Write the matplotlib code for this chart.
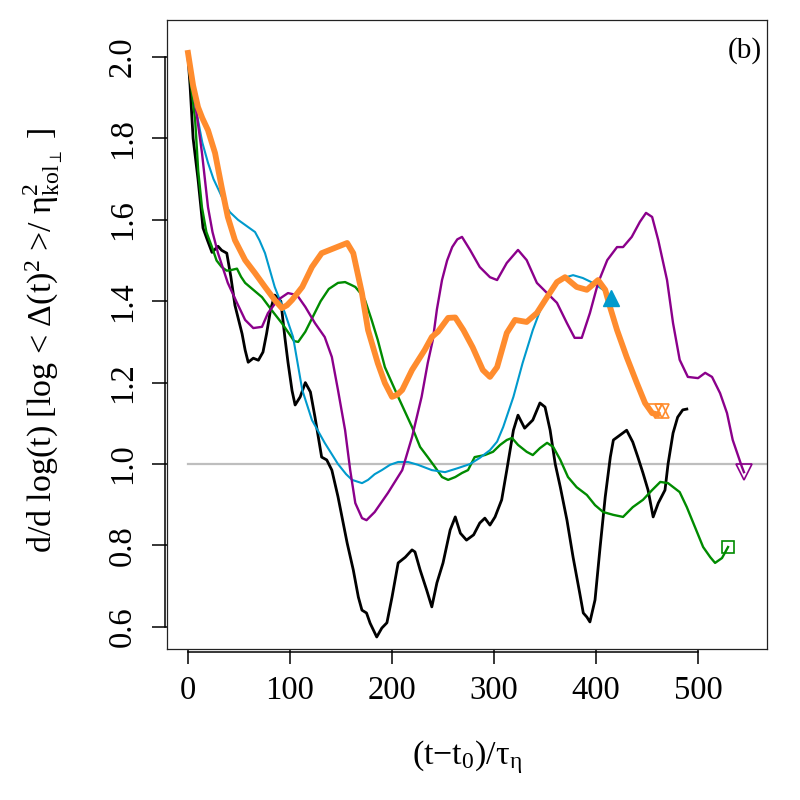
import matplotlib
matplotlib.use("Agg")
import matplotlib.pyplot as plt
import matplotlib.transforms as mtransforms

plt.rcParams["font.family"] = ["Liberation Serif", "DejaVu Serif"]
plt.rcParams["mathtext.fontset"] = "custom"
plt.rcParams["mathtext.rm"] = "Liberation Serif"
plt.rcParams["mathtext.it"] = "Liberation Serif:italic"

# valores
t_negro = [0, 2, 5, 9.8, 14.7, 19, 23.5, 29.4, 33, 38, 42, 46, 50, 53, 56, 59, 64, 69, 73.5, 77,
           81, 85, 91, 95, 98, 102, 105, 110, 115, 120, 124.5, 131, 136, 141, 147, 156, 162, 167,
           170.5, 175, 178.5, 185, 190, 195, 200, 206, 213, 219.6, 222.5, 227.5, 234, 239, 244,
           250, 257, 262, 267, 273, 280, 286, 291, 296, 301, 307.5, 312.5, 319, 323.5, 330, 338,
           345, 350, 355, 360, 365, 371.5, 377.5, 384, 387.5, 391, 394, 399, 404, 409, 414, 417,
           423.5, 430, 436, 441, 446, 451, 456, 461, 467.6, 470.6, 475.5, 480, 485, 489]
y_negro = [2.0, 1.93, 1.80, 1.70, 1.58, 1.55, 1.52, 1.535, 1.525, 1.518, 1.46, 1.39, 1.35, 1.32,
           1.28, 1.25, 1.26, 1.255, 1.275, 1.32, 1.38, 1.415, 1.40, 1.31, 1.25, 1.18, 1.145, 1.165,
           1.20, 1.177, 1.115, 1.017, 1.01, 0.985, 0.92, 0.806, 0.74, 0.673, 0.641, 0.634, 0.609,
           0.575, 0.597, 0.61, 0.673, 0.757, 0.771, 0.789, 0.784, 0.74, 0.69, 0.649, 0.708, 0.757,
           0.838, 0.87, 0.83, 0.813, 0.826, 0.855, 0.867, 0.85, 0.87, 0.912, 0.985, 1.083, 1.12,
           1.088, 1.108, 1.15, 1.14, 1.083, 1.0, 0.943, 0.862, 0.771, 0.683, 0.634, 0.624, 0.612,
           0.666, 0.796, 0.919, 1.017, 1.059, 1.071, 1.083, 1.054, 1.017, 0.978, 0.936, 0.87,
           0.904, 0.936, 1.0, 1.076, 1.115, 1.133, 1.135]

t_verde = [0, 3, 7, 10, 13.7, 18, 23.5, 28, 33, 38, 43, 48, 52, 56, 64, 72.5, 82, 92, 100, 104,
           108, 115, 122, 130, 138, 147, 154, 160, 164, 169, 173.5, 180, 186, 193, 206, 219.6,
           227.5, 235, 242, 249, 255, 262, 268.6, 274.5, 281, 291, 299, 306, 312.5, 317.6, 323.5,
           332, 338, 345, 352, 358, 365, 372.5, 381, 391, 399, 407, 417, 426.5, 436, 446, 455,
           463, 470.6, 482, 489, 497, 505, 512, 516.7, 523.5, 529.4]
y_verde = [2.0, 1.93, 1.845, 1.72, 1.63, 1.57, 1.533, 1.50, 1.484, 1.475, 1.477, 1.48, 1.46, 1.445,
           1.428, 1.41, 1.378, 1.346, 1.317, 1.302, 1.30, 1.325, 1.36, 1.40, 1.43, 1.445, 1.447,
           1.44, 1.435, 1.42, 1.403, 1.354, 1.305, 1.238, 1.165, 1.091, 1.042, 1.017, 0.993, 0.968,
           0.961, 0.968, 0.978, 0.985, 1.017, 1.022, 1.03, 1.047, 1.059, 1.064, 1.047, 1.03, 1.022,
           1.039, 1.052, 1.042, 1.01, 0.968, 0.943, 0.924, 0.899, 0.882, 0.875, 0.87, 0.894, 0.912,
           0.936, 0.956, 0.953, 0.931, 0.894, 0.845, 0.796, 0.771, 0.757, 0.769, 0.796]

t_azul = [0, 4, 9.8, 14, 19.6, 25, 31.4, 36, 41, 49, 59, 65.7, 70, 75.5, 85, 95, 103, 112, 121.5,
          134, 147, 155, 160.8, 170.6, 176.5, 183, 190, 198, 206, 215.7, 225.5, 239, 252, 264.7,
          276.5, 286, 296, 303, 309, 319, 328, 338, 348, 358, 368, 377.5, 387, 397, 407, 415]
y_azul = [2.0, 1.93, 1.845, 1.79, 1.74, 1.70, 1.666, 1.64, 1.619, 1.60, 1.582, 1.57, 1.55, 1.518,
          1.435, 1.371, 1.312, 1.182, 1.108, 1.052, 1.0, 0.975, 0.961, 0.953, 0.961, 0.975, 0.985,
          0.998, 1.005, 1.005, 0.998, 0.985, 0.98, 0.99, 1.0, 1.015, 1.034, 1.055, 1.091, 1.165,
          1.248, 1.329, 1.396, 1.435, 1.457, 1.464, 1.457, 1.445, 1.428, 1.408]

t_morado = [0, 3, 7, 13.7, 19.6, 24, 29.4, 39, 48, 56, 64, 72.5, 78.4, 88, 98, 106.9, 115, 124.5,
            134, 141, 147, 154, 159, 164, 170.6, 175, 183, 196, 210, 219.6, 229, 235, 240, 244,
            249, 254, 259, 264, 268.6, 276.5, 286, 296, 303, 312.5, 323.5, 332, 342, 352, 361.7,
            371.5, 379, 386, 394, 402, 411, 420.6, 426.5, 435, 443, 449, 455, 461, 469.6, 475.5,
            482, 490, 500, 507, 513.7, 521.6, 528.4, 534, 543, 545]
y_morado = [2.0, 1.95, 1.887, 1.764, 1.631, 1.57, 1.518, 1.445, 1.396, 1.354, 1.334, 1.337, 1.371,
            1.403, 1.42, 1.415, 1.386, 1.346, 1.312, 1.263, 1.182, 1.083, 0.985, 0.904, 0.867,
            0.862, 0.882, 0.929, 0.985, 1.066, 1.165, 1.248, 1.305, 1.38, 1.452, 1.50, 1.533,
            1.552, 1.558, 1.526, 1.484, 1.459, 1.452, 1.494, 1.526, 1.501, 1.445, 1.42, 1.396,
            1.346, 1.31, 1.31, 1.371, 1.445, 1.501, 1.533, 1.533, 1.558, 1.595, 1.617, 1.607,
            1.55, 1.452, 1.346, 1.256, 1.214, 1.211, 1.224, 1.214, 1.174, 1.125, 1.059, 0.993, 0.98]

t_naranja = [0, 5, 9.8, 14, 19.6, 26.5, 33, 39, 46, 56, 65.7, 75.5, 85, 92, 97, 102, 112, 121.5,
             131, 144, 156, 162, 170.5, 176.5, 186, 193, 200, 205, 210, 219.6, 232, 239, 245, 255,
             262, 270, 279, 289, 296, 303, 312.5, 320.6, 332, 342, 352, 361.7, 369.6, 381, 391,
             402, 409, 413.7, 420.6, 430, 440, 448, 455, 460]
y_naranja = [2.01, 1.93, 1.877, 1.85, 1.82, 1.764, 1.68, 1.607, 1.55, 1.501, 1.469, 1.435,
             1.403, 1.383, 1.39, 1.403, 1.435, 1.484, 1.518, 1.531, 1.543, 1.518, 1.42, 1.329,
             1.248, 1.199, 1.165, 1.17, 1.182, 1.231, 1.28, 1.312, 1.325, 1.359, 1.36, 1.329,
             1.287, 1.231, 1.214, 1.238, 1.322, 1.354, 1.349, 1.371, 1.41, 1.447, 1.459, 1.435,
             1.428, 1.452, 1.428, 1.386, 1.329, 1.263, 1.199, 1.15, 1.125, 1.122]

fig = plt.figure(figsize=(8, 8), dpi=100)
ax = fig.add_axes([167/800, 1-649/800, 600/800, 629/800])

ax.plot([0, 600], [1, 1], color="#BEBEBE", lw=1.6, zorder=1)

ax.plot(t_negro, y_negro, color="black", lw=2.0)
ax.plot(t_verde, y_verde, color="#008B00", lw=1.7)
ax.plot(t_azul, y_azul, color="#009ACD", lw=1.5)
ax.plot(t_morado, y_morado, color="#8B008B", lw=1.7)
ax.plot(t_naranja, y_naranja, color="#FF8C2E", lw=4.2)

# marcadores finales
ax.plot(t_azul[-1], y_azul[-1], marker="^", ms=11, color="#009ACD", zorder=5)
ax.plot(458, 1.13, marker="v", ms=10, mfc="none", mec="#FF8C2E", mew=1.2, zorder=5)
ax.plot(465, 1.13, marker="v", ms=10, mfc="none", mec="#FF8C2E", mew=1.2, zorder=5)
ax.plot(465, 1.13, marker="^", ms=10, mfc="none", mec="#FF8C2E", mew=1.2, zorder=5)
ax.plot(t_verde[-1], y_verde[-1], marker="s", ms=9, mfc="none", mec="#008B00", mew=1.2, zorder=5)
ax.plot(t_morado[-1], y_morado[-1], marker="v", ms=12, mfc="none", mec="#8B008B", mew=1.2, zorder=5)

ax.set_xlim(-20.6, 567.6)
ax.set_ylim(0.5455, 2.0909)

for s in ax.spines.values():
    s.set_linewidth(0.9)
    s.set_color("#222222")

ax.set_xticks([0, 100, 200, 300, 400, 500])
ax.set_yticks([0.6, 0.8, 1.0, 1.2, 1.4, 1.6, 1.8, 2.0])
ax.set_yticklabels(["0.6", "0.8", "1.0", "1.2", "1.4", "1.6", "1.8", "2.0"])
ax.tick_params(axis="both", direction="out", length=11, width=1.1, labelsize=23.5)
ax.tick_params(axis="x", pad=8)
ax.tick_params(axis="y", pad=10)
for lab in ax.get_yticklabels():
    lab.set_rotation(90)
    lab.set_va("center")
    lab.set_ha("right")

# lineas de eje estilo R
tr_y = mtransforms.blended_transform_factory(ax.transAxes, ax.transData)
tr_x = mtransforms.blended_transform_factory(ax.transData, ax.transAxes)
ax.plot([-2/600, -2/600], [0.6, 2.0], transform=tr_y, color="black", lw=1.1, clip_on=False)
ax.plot([0, 500], [-3/629, -3/629], transform=tr_x, color="black", lw=1.1, clip_on=False)

ax.text(0.992, 0.952, "(b)", transform=ax.transAxes, ha="right", va="center", fontsize=21)

fig.text(467/800, 1-757/800, r"(t$-$t$_0$)/$\mathrm{\tau}_\mathrm{\eta}$", ha="center", va="center", fontsize=24.5)
fig.text(43/800, 1-340/800,
         r"d/d log(t) [log < $\Delta$(t)$^2$ >/ $\mathrm{\eta}_{\mathrm{kol}_{\perp}}^{2}$ ]",
         rotation=90, ha="center", va="center", fontsize=24.5)

plt.savefig("out.png", dpi=100)
